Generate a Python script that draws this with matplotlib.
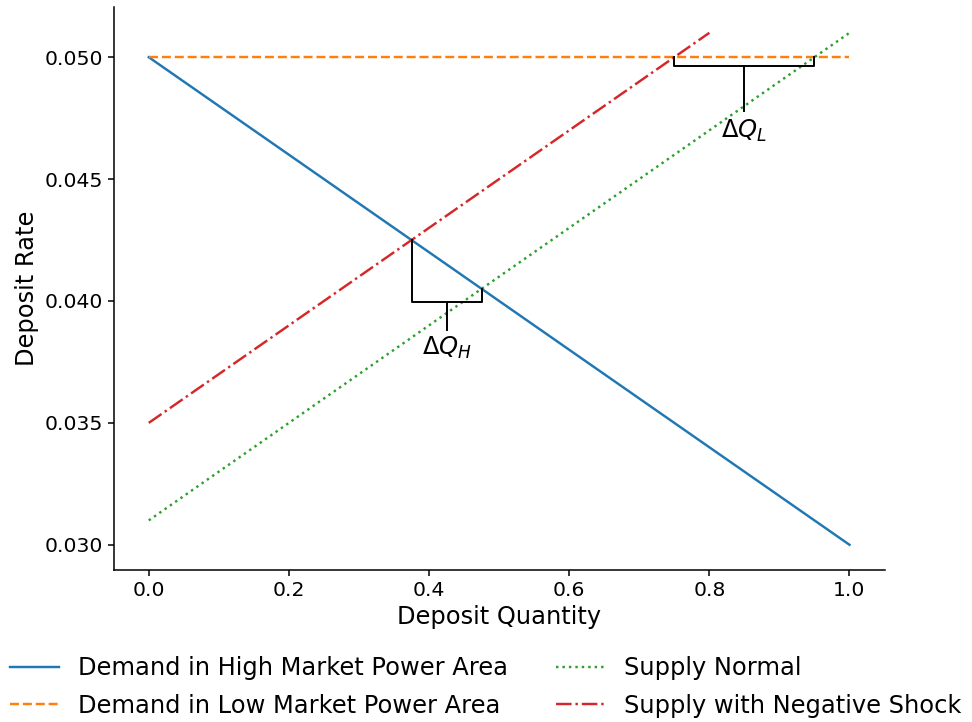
import numpy as np
import matplotlib
matplotlib.use("Agg")
import matplotlib.pyplot as plt

# demand / supply curves (endpoints)
q_full = [0.0, 1.0]
demand_high = [0.050, 0.030]
demand_low = [0.050, 0.050]
supply_normal = [0.031, 0.051]
q_shock = [0.0, 0.8]
supply_shock = [0.035, 0.051]

# bracket for delta Q_H
qh_x = [0.375, 0.375, 0.475, 0.475]
qh_y = [0.0425, 0.03995, 0.03995, 0.0405]
qh_tick = [0.03995, 0.0388]
# bracket for delta Q_L
ql_x = [0.75, 0.75, 0.95, 0.95]
ql_y = [0.0500, 0.04962, 0.04962, 0.0500]
ql_tick = [0.04962, 0.0478]

fig, ax = plt.subplots(figsize=(9.72, 7.22), dpi=100)

lw = 1.75
ax.plot(q_full, demand_high, color="#1f77b4", lw=lw, label="Demand in High Market Power Area")
ax.plot(q_full, demand_low, color="#ff7f0e", lw=lw, ls="--", label="Demand in Low Market Power Area")
ax.plot(q_full, supply_normal, color="#2ca02c", lw=lw, ls=":", label="Supply Normal")
ax.plot(q_shock, supply_shock, color="#d62728", lw=lw, ls="-.", label="Supply with Negative Shock")

ax.plot(qh_x, qh_y, color="black", lw=1.4)
ax.plot([0.425, 0.425], qh_tick, color="black", lw=1.4)
ax.text(0.425, 0.03862, r"$\Delta Q_H$", ha="center", va="top", fontsize=17.5)

ax.plot(ql_x, ql_y, color="black", lw=1.4)
ax.plot([0.85, 0.85], ql_tick, color="black", lw=1.4)
ax.text(0.85, 0.04752, r"$\Delta Q_L$", ha="center", va="top", fontsize=17.5)

ax.set_xlabel("Deposit Quantity", fontsize=17.4)
ax.set_ylabel("Deposit Rate", fontsize=17.4)
ax.tick_params(labelsize=14.7, width=1.1, length=4)
ax.set_yticks([0.030, 0.035, 0.040, 0.045, 0.050])
ax.set_yticklabels(["0.030", "0.035", "0.040", "0.045", "0.050"])
ax.spines["top"].set_visible(False)
ax.spines["right"].set_visible(False)
for s in ("left", "bottom"):
    ax.spines[s].set_linewidth(1.1)

fig.subplots_adjust(left=0.117, right=0.91, top=0.99, bottom=0.21)

handles, labels = ax.get_legend_handles_labels()
fig.legend(handles, labels, loc="upper center", bbox_to_anchor=(0.5, 0.121), ncol=2,
           frameon=False, fontsize=17.4, labelspacing=0.55)

fig.savefig("out.png", dpi=100)
